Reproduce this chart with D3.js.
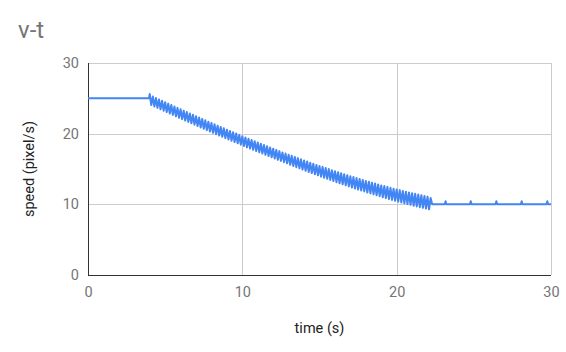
<!DOCTYPE html>
<html>
<head>
<meta charset="utf-8">
<script src="https://cdn.jsdelivr.net/npm/d3@7"></script>
<style>
  html, body { margin: 0; padding: 0; background: #fff; }
  svg { display: block; font-family: Roboto, "Noto Sans", sans-serif; }
</style>
</head>
<body>
<svg id="chart" width="566" height="352"></svg>
<script>
// ---- data ----
const chartTitle = "v-t";
const xTitle = "time (s)";
const yTitle = "speed (pixel/s)";
const xTicks = [0, 10, 20, 30];
const yTicks = [0, 10, 20, 30];

// constant speed phase
const flatStart = [[0, 25], [3.95, 25]];

// decelerating phase (noisy, oscillating samples)
const decel = [
  [4.0,25.6],[4.1,24.05],[4.2,25.25],[4.3,23.85],[4.4,25.05],[4.5,23.65],[4.6,24.85],[4.7,23.45],[4.8,24.65],[4.9,23.25],
  [5.0,24.45],[5.1,23.05],[5.2,24.25],[5.3,22.85],[5.4,24.05],[5.5,22.65],[5.6,23.85],[5.7,22.45],[5.8,23.65],[5.9,22.25],
  [6.0,23.45],[6.1,22.05],[6.2,23.25],[6.3,21.86],[6.4,23.06],[6.5,21.66],[6.6,22.86],[6.7,21.46],[6.8,22.67],[6.9,21.27],
  [7.0,22.47],[7.1,21.07],[7.2,22.28],[7.3,20.88],[7.4,22.09],[7.5,20.69],[7.6,21.89],[7.7,20.5],[7.8,21.7],[7.9,20.31],
  [8.0,21.51],[8.1,20.12],[8.2,21.32],[8.3,19.93],[8.4,21.13],[8.5,19.74],[8.6,20.95],[8.7,19.55],[8.8,20.76],[8.9,19.36],
  [9.0,20.57],[9.1,19.18],[9.2,20.39],[9.3,18.99],[9.4,20.2],[9.5,18.81],[9.6,20.02],[9.7,18.63],[9.8,19.83],[9.9,18.44],
  [10.0,19.65],[10.1,18.26],[10.2,19.47],[10.3,18.08],[10.4,19.29],[10.5,17.9],[10.6,19.11],[10.7,17.72],[10.8,18.93],[10.9,17.54],
  [11.0,18.75],[11.1,17.36],[11.2,18.57],[11.3,17.19],[11.4,18.4],[11.5,17.01],[11.6,18.22],[11.7,16.83],[11.8,18.05],[11.9,16.66],
  [12.0,17.87],[12.1,16.48],[12.2,17.7],[12.3,16.31],[12.4,17.53],[12.5,16.14],[12.6,17.35],[12.7,15.97],[12.8,17.18],[12.9,15.8],
  [13.0,17.01],[13.1,15.6],[13.2,16.87],[13.3,15.43],[13.4,16.7],[13.5,15.26],[13.6,16.54],[13.7,15.09],[13.8,16.37],[13.9,14.92],
  [14.0,16.2],[14.1,14.74],[14.2,16.06],[14.3,14.58],[14.4,15.9],[14.5,14.42],[14.6,15.74],[14.7,14.26],[14.8,15.58],[14.9,14.1],
  [15.0,15.42],[15.1,13.91],[15.2,15.3],[15.3,13.76],[15.4,15.14],[15.5,13.61],[15.6,14.99],[15.7,13.45],[15.8,14.83],[15.9,13.3],
  [16.0,14.68],[16.1,13.13],[16.2,14.55],[16.3,12.98],[16.4,14.41],[16.5,12.84],[16.6,14.26],[16.7,12.69],[16.8,14.12],[16.9,12.54],
  [17.0,13.97],[17.1,12.37],[17.2,13.86],[17.3,12.23],[17.4,13.72],[17.5,12.1],[17.6,13.59],[17.7,11.96],[17.8,13.45],[17.9,11.82],
  [18.0,13.31],[18.1,11.67],[18.2,13.2],[18.3,11.54],[18.4,13.07],[18.5,11.41],[18.6,12.94],[18.7,11.28],[18.8,12.81],[18.9,11.15],
  [19.0,12.68],[19.1,10.99],[19.2,12.59],[19.3,10.87],[19.4,12.47],[19.5,10.75],[19.6,12.34],[19.7,10.62],[19.8,12.22],[19.9,10.5],
  [20.0,12.1],[20.1,10.37],[20.2,12.01],[20.3,10.26],[20.4,11.9],[20.5,10.15],[20.6,11.79],[20.7,10.04],[20.8,11.68],[20.9,9.93],
  [21.0,11.57],[21.1,9.8],[21.2,11.49],[21.3,9.7],[21.4,11.39],[21.5,9.6],[21.6,11.29],[21.7,9.5],[21.8,11.19],[21.9,9.4],
  [22.0,11.09],[22.1,9.3],[22.2,10.9],[22.3,10.0]
];

// constant speed phase with small sampling spikes
const flatEnd = [
  [22.4,10],[23.12,10],[23.17,10.45],[23.22,10],
  [24.75,10],[24.8,10.45],[24.85,10],
  [26.41,10],[26.46,10.45],[26.51,10],
  [28.05,10],[28.1,10.45],[28.15,10],
  [29.71,10],[29.76,10.45],[29.81,10],[30,10]
];

// ---- drawing ----
const series = flatStart.concat(decel, flatEnd).map(d => ({t: d[0], v: d[1]}));

const svg = d3.select("#chart");
const margin = {left: 88, right: 15, top: 63, bottom: 77};
const W = 566, H = 352;
const x = d3.scaleLinear().domain([0, 30]).range([margin.left, W - margin.right]);
const y = d3.scaleLinear().domain([0, 30]).range([H - margin.bottom, margin.top]);

// gridlines
svg.append("g").selectAll("line.h").data(yTicks).join("line")
  .attr("x1", x(0)).attr("x2", x(30))
  .attr("y1", d => Math.round(y(d)) + 0.5).attr("y2", d => Math.round(y(d)) + 0.5)
  .attr("stroke", "#cccccc").attr("stroke-width", 1);
svg.append("g").selectAll("line.v").data(xTicks).join("line")
  .attr("y1", y(0)).attr("y2", y(30))
  .attr("x1", d => Math.round(x(d)) + 0.5).attr("x2", d => Math.round(x(d)) + 0.5)
  .attr("stroke", "#cccccc").attr("stroke-width", 1);

// baselines
svg.append("line").attr("x1", x(0)).attr("x2", x(30))
  .attr("y1", Math.round(y(0)) + 0.5).attr("y2", Math.round(y(0)) + 0.5)
  .attr("stroke", "#333333").attr("stroke-width", 1);
svg.append("line").attr("y1", y(0)).attr("y2", y(30))
  .attr("x1", Math.round(x(0)) + 0.5).attr("x2", Math.round(x(0)) + 0.5)
  .attr("stroke", "#333333").attr("stroke-width", 1);

// axes (labels only)
const xAxis = d3.axisBottom(x).tickValues(xTicks).tickSize(0).tickPadding(12).tickFormat(d3.format("d"));
const gx = svg.append("g").attr("transform", `translate(0,${y(0)})`).call(xAxis);
gx.select(".domain").remove();
gx.selectAll("text").attr("fill", "#757575").style("font-size", "14.5px").style("font-family", "Roboto");

const yAxis = d3.axisLeft(y).tickValues(yTicks).tickSize(0).tickPadding(9).tickFormat(d3.format("d"));
const gy = svg.append("g").attr("transform", `translate(${x(0)},0)`).call(yAxis);
gy.select(".domain").remove();
gy.selectAll("text").attr("fill", "#757575").style("font-size", "14.5px").style("font-family", "Roboto");

// line
const line = d3.line().x(d => x(d.t)).y(d => y(d.v));
svg.append("path").datum(series)
  .attr("d", line)
  .attr("fill", "none")
  .attr("stroke", "#4285f4")
  .attr("stroke-width", 2)
  .attr("stroke-linejoin", "round");

// titles
svg.append("text").attr("x", 18).attr("y", 38).text(chartTitle)
  .attr("fill", "#757575").style("font-size", "24px").style("font-family", "Roboto");
svg.append("text").attr("x", (x(0) + x(30)) / 2).attr("y", 333).attr("text-anchor", "middle")
  .text(xTitle).attr("fill", "#222222").style("font-size", "14.5px").style("font-family", "Roboto");
svg.append("text").attr("transform", `translate(34,${(y(0) + y(30)) / 2}) rotate(-90)`)
  .attr("text-anchor", "middle").text(yTitle)
  .attr("fill", "#222222").style("font-size", "14.5px").style("font-family", "Roboto");
</script>
</body>
</html>
